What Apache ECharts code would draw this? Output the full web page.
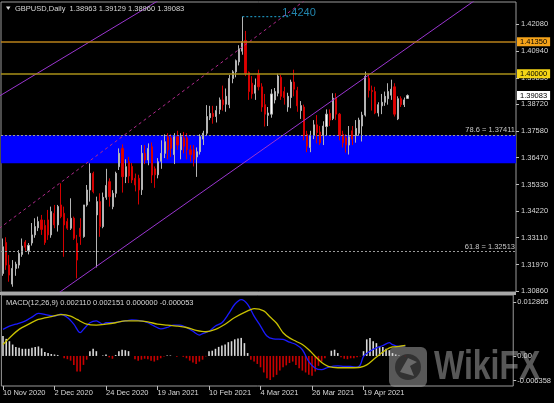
<!DOCTYPE html>
<html><head><meta charset="utf-8">
<script src="https://cdn.jsdelivr.net/npm/echarts@6/dist/echarts.min.js"></script>
<style>html,body{margin:0;padding:0;background:#000;}#c{width:554px;height:403px;}</style>
</head><body><div id="c"></div><script>
// ---------- DATA ----------
const headerText = 'GBPUSD,Daily  1.38963 1.39129 1.38960 1.39083';
const macdHeader = 'MACD(12,26,9) 0.002110 0.002151 0.000000 -0.000053';
const tickLabels = ['10 Nov 2020','2 Dec 2020','24 Dec 2020','19 Jan 2021','10 Feb 2021','4 Mar 2021','26 Mar 2021','19 Apr 2021'];
const labelEvery = 16;
const slotCount = 159;
const priceTicks = [1.30860,1.31970,1.33110,1.34220,1.35330,1.36470,1.37580,1.38720,1.39830,1.40940,1.42080];
const priceMin = 1.30818, priceMax = 1.43018;
const macdMin = -0.006358, macdMax = 0.012865;
const macdTickPos = [0.011386, 0, -0.005196];
const macdTickText = ['0.012865', '0.00', '-0.006358'];

const opens = [1.3160,1.3290,1.3195,1.3115,1.3181,1.3195,1.3240,1.3292,1.3255,1.3288,
1.3322,1.3352,1.3385,1.3362,1.3385,1.3322,1.3413,1.3364,1.3448,1.3413,
1.3378,1.3350,1.3392,1.3287,1.3350,1.3315,1.3448,1.3511,1.3581,1.3406,
1.3462,1.3357,1.3480,1.3546,1.3441,1.3497,1.3609,1.3686,1.3567,1.3630,
1.3610,1.3560,1.3560,1.3512,1.3665,1.3637,1.3693,1.3600,1.3575,1.3632,
1.3665,1.3735,1.3730,1.3660,1.3735,1.3680,1.3730,1.3730,1.3680,1.3680,
1.3650,1.3672,1.3725,1.3750,1.3815,1.3833,1.3820,1.3850,1.3890,1.3872,
1.3870,1.3980,1.4008,1.4050,1.4095,1.4140,1.4005,1.3960,1.3918,1.4000,
1.3945,1.3870,1.3825,1.3830,1.3890,1.3918,1.3985,1.3925,1.3860,1.3900,
1.3965,1.3930,1.3845,1.3860,1.3745,1.3690,1.3740,1.3785,1.3755,1.3740,
1.3778,1.3833,1.3812,1.3900,1.3830,1.3745,1.3730,1.3700,1.3760,1.3740,
1.3750,1.3780,1.3826,1.3981,1.3930,1.3925,1.3835,1.3865,1.3880,1.3895,
1.3910,1.3945,1.3810,1.3895,1.3870,1.38963];
const highs = [1.3307,1.3312,1.3237,1.3216,1.3209,1.3258,1.3307,1.3300,1.3288,1.3372,
1.3392,1.3399,1.3406,1.3385,1.3427,1.3441,1.3448,1.3448,1.3539,1.3441,
1.3392,1.3476,1.3399,1.3322,1.3392,1.3448,1.3532,1.3623,1.3588,1.3483,
1.3497,1.3500,1.3600,1.3560,1.3510,1.3588,1.3686,1.3703,1.3640,1.3650,
1.3625,1.3580,1.3575,1.3700,1.3700,1.3707,1.3711,1.3610,1.3645,1.3720,
1.3745,1.3750,1.3745,1.3750,1.3760,1.3750,1.3755,1.3750,1.3700,1.3700,
1.3690,1.3745,1.3760,1.3868,1.3865,1.3865,1.3865,1.3900,1.3950,1.3938,
1.3995,1.4015,1.4060,1.4120,1.4240,1.4180,1.4010,1.3990,1.3980,1.4017,
1.3960,1.3915,1.3860,1.3935,1.3940,1.4000,1.3995,1.3945,1.3920,1.3975,
1.4017,1.3945,1.3885,1.3870,1.3760,1.3760,1.3805,1.3826,1.3780,1.3800,
1.3850,1.3850,1.3918,1.3918,1.3835,1.3760,1.3745,1.3780,1.3780,1.3805,
1.3815,1.3840,1.4009,1.4000,1.3950,1.3945,1.3880,1.3915,1.3925,1.3960,
1.3975,1.3960,1.3905,1.3905,1.3900,1.39129];
const lows = [1.3150,1.3175,1.3125,1.3104,1.3150,1.3181,1.3230,1.3255,1.3240,1.3277,
1.3310,1.3338,1.3322,1.3280,1.3301,1.3310,1.3350,1.3336,1.3392,1.3230,
1.3343,1.3343,1.3301,1.3139,1.3280,1.3310,1.3441,1.3462,1.3497,1.3185,
1.3314,1.3350,1.3470,1.3441,1.3430,1.3480,1.3595,1.3500,1.3540,1.3540,
1.3540,1.3505,1.3450,1.3490,1.3620,1.3615,1.3540,1.3520,1.3560,1.3600,
1.3645,1.3640,1.3650,1.3620,1.3680,1.3640,1.3665,1.3640,1.3630,1.3610,
1.3566,1.3660,1.3700,1.3740,1.3805,1.3790,1.3795,1.3830,1.3845,1.3840,
1.3855,1.3960,1.3985,1.4035,1.4080,1.3990,1.3890,1.3895,1.3890,1.3930,
1.3840,1.3778,1.3780,1.3815,1.3875,1.3905,1.3890,1.3870,1.3840,1.3855,
1.3905,1.3840,1.3810,1.3720,1.3670,1.3670,1.3725,1.3707,1.3700,1.3700,
1.3740,1.3780,1.3805,1.3805,1.3720,1.3690,1.3668,1.3660,1.3700,1.3710,
1.3740,1.3715,1.3820,1.3900,1.3845,1.3830,1.3820,1.3830,1.3865,1.3870,
1.3890,1.3820,1.3805,1.3860,1.3860,1.38960];
const closes = [1.3272,1.3195,1.3153,1.3181,1.3199,1.3244,1.3275,1.3270,1.3278,1.3322,
1.3357,1.3378,1.3345,1.3290,1.3322,1.3420,1.3364,1.3441,1.3399,1.3364,
1.3350,1.3392,1.3308,1.3216,1.3315,1.3448,1.3511,1.3581,1.3504,1.3462,
1.3357,1.3480,1.3530,1.3483,1.3497,1.3581,1.3665,1.3567,1.3609,1.3570,
1.3553,1.3532,1.3511,1.3665,1.3637,1.3686,1.3574,1.3575,1.3630,1.3665,
1.3714,1.3680,1.3686,1.3735,1.3700,1.3735,1.3695,1.3680,1.3660,1.3640,
1.3672,1.3735,1.3750,1.3820,1.3833,1.3820,1.3845,1.3890,1.3870,1.3905,
1.3980,1.4008,1.4055,1.4105,1.4135,1.4000,1.3925,1.3915,1.3952,1.3945,
1.3860,1.3830,1.3835,1.3915,1.3925,1.3990,1.3905,1.3900,1.3905,1.3965,
1.3935,1.3865,1.3866,1.3740,1.3695,1.3742,1.3785,1.3752,1.3710,1.3780,
1.3830,1.3805,1.3897,1.3830,1.3740,1.3710,1.3700,1.3735,1.3725,1.3770,
1.3805,1.3826,1.3988,1.3930,1.3925,1.3835,1.3870,1.3880,1.3905,1.3925,
1.3935,1.3830,1.3895,1.3870,1.3890,1.39083];

const macdHist = [0.0042,0.0036,0.0031,0.0024,0.0019,0.0017,0.0015,0.0015,0.0015,0.0017,
0.0019,0.0020,0.0016,0.0008,0.0006,0.0004,0.0003,0.0002,0.0000,-0.0005,
-0.0007,-0.0010,-0.0019,-0.0033,-0.0033,-0.0019,-0.0008,0.0010,0.0015,0.0010,
0.0000,0.0001,0.0003,-0.0003,-0.0006,0.0002,0.0010,0.0013,0.0012,0.0010,
0.0000,-0.0007,-0.0010,-0.0008,-0.0006,-0.0007,-0.0010,-0.0012,-0.0009,-0.0005,
-0.0001,0.0001,0.0001,0.0000,-0.0002,0.0000,-0.0002,-0.0005,-0.0010,-0.0014,
-0.0017,-0.0012,-0.0008,-0.0001,0.0010,0.0011,0.0015,0.0019,0.0022,0.0024,
0.0029,0.0031,0.0035,0.0037,0.0038,0.0027,0.0006,-0.0008,-0.0012,-0.0017,
-0.0024,-0.0035,-0.0047,-0.0051,-0.0045,-0.0040,-0.0031,-0.0024,-0.0020,-0.0015,
-0.0012,-0.0019,-0.0026,-0.0031,-0.0035,-0.0040,-0.0042,-0.0033,-0.0021,-0.0012,
-0.0005,0.0000,0.0011,0.0013,0.0006,-0.0003,-0.0006,-0.0007,-0.0005,-0.0005,
-0.0003,-0.0001,0.0010,0.0035,0.0038,0.0031,0.0027,0.0020,0.0019,0.0015,
0.0012,0.0006,0.0003,0.0001,0.0000,-0.00005];
const macdLine = [[0,0.0056],[2,0.0063],[4,0.0067],[7,0.0074],[9,0.0082],[11,0.0090],[14,0.0086],[16,0.0084],[18,0.0088],[20,0.0081],[22,0.0067],[24,0.0049],[25,0.0056],[27,0.0070],[29,0.0074],[31,0.0067],[32,0.0070],[34,0.0070],[36,0.0072],[38,0.0074],[40,0.0076],[43,0.0074],[45,0.0070],[47,0.0063],[49,0.0057],[51,0.0060],[53,0.0065],[55,0.0065],[57,0.0060],[59,0.0052],[61,0.0044],[62,0.0047],[64,0.0052],[66,0.0063],[68,0.0070],[70,0.0088],[72,0.0109],[74,0.0119],[76,0.0109],[78,0.0084],[80,0.0063],[82,0.0042],[84,0.0036],[87,0.0035],[89,0.0029],[91,0.0024],[93,0.0013],[95,-0.0012],[97,-0.0026],[99,-0.0029],[101,-0.0024],[104,-0.0021],[106,-0.0022],[108,-0.0022],[110,-0.0024],[111,-0.0019],[112,-0.0001],[114,0.0010],[116,0.0017],[118,0.0022],[120,0.0028],[121,0.0024],[123,0.0020],[125,0.0021]];
const signalLine = [[0,0.0024],[2,0.0038],[5,0.0056],[8,0.0067],[11,0.0077],[15,0.0083],[18,0.0087],[21,0.0084],[23,0.0077],[26,0.0067],[29,0.0065],[32,0.0067],[35,0.0070],[38,0.0074],[42,0.0074],[45,0.0072],[48,0.0067],[51,0.0065],[54,0.0063],[57,0.0060],[60,0.0054],[63,0.0051],[66,0.0056],[69,0.0067],[72,0.0081],[76,0.0095],[78,0.0100],[81,0.0095],[83,0.0082],[85,0.0069],[87,0.0049],[89,0.0038],[91,0.0031],[93,0.0024],[95,0.0013],[97,-0.0001],[99,-0.0014],[101,-0.0022],[104,-0.0025],[108,-0.0025],[111,-0.0024],[113,-0.0019],[115,-0.0008],[117,0.0003],[119,0.0013],[121,0.0019],[123,0.0020],[125,0.0022]];

// drawn objects (bar index, price)
const channelUpper = [[-1, 1.3906], [52, 1.4340]];
const channelLower = [[15, 1.3056], [150, 1.4349]];
const channelMid = [[-1, 1.3350], [95, 1.4326]];
const highMarker = [[74, 1.4240], [88.5, 1.4240]];
const highLabelPos = [86.3, 1.4256];
const highLabel = '1.4240';
const resistance1 = 1.41350, resistance2 = 1.40000, lastPrice = 1.39083;
const fib786 = 1.37411, fib618 = 1.32513;
const zoneTop = 1.37411, zoneBottom = 1.36232;

// ---------- CHART ----------
const FONT = 'Liberation Sans, Arial, sans-serif';
const cats = Array.from({length: slotCount}, (_, i) => String(i));
const candleData = opens.map((o, i) => [o, closes[i], lows[i], highs[i]]);
const showIdx = (i) => i % labelEvery === 0 && i / labelEvery < tickLabels.length;
const chart = echarts.init(document.getElementById('c'));
const hLabel = (txt, bg) => ({show: true, position: 'end', formatter: txt, backgroundColor: bg, color: '#000',
  fontSize: 7.5, fontFamily: FONT, padding: [1, 3, 0, 3], distance: 1});
chart.setOption({
  backgroundColor: '#000',
  animation: false,
  textStyle: {fontFamily: FONT},
  grid: [
    {left: 1, right: 38, top: 2, height: 290, show: true, borderColor: '#9a9a9a', borderWidth: 1, backgroundColor: 'transparent'},
    {left: 1, right: 38, top: 295, height: 91, show: true, borderColor: '#9a9a9a', borderWidth: 1, backgroundColor: 'transparent'}
  ],
  xAxis: [
    {type: 'category', gridIndex: 0, data: cats, boundaryGap: true, show: false, axisLine: {onZero: false}},
    {type: 'category', gridIndex: 1, data: cats, boundaryGap: true,
      axisLine: {show: false, onZero: false},
      axisTick: {show: true, alignWithLabel: true, length: 4, interval: (i) => showIdx(i), lineStyle: {color: '#bdbdbd'}},
      axisLabel: {interval: (i) => showIdx(i), formatter: (v, i) => tickLabels[i / labelEvery] || '',
        align: 'left', color: '#d8d8d8', fontSize: 7.5, margin: 3, fontFamily: FONT},
      splitLine: {show: false}},
    {type: 'value', gridIndex: 0, min: -0.5, max: slotCount - 0.5, show: false, axisLine: {onZero: false}},
    {type: 'value', gridIndex: 1, min: -0.5, max: slotCount - 0.5, show: false, axisLine: {onZero: false}}
  ],
  yAxis: [
    {type: 'value', gridIndex: 0, position: 'right', min: priceMin, max: priceMax, scale: true,
      splitLine: {show: false}, axisLine: {show: false, onZero: false},
      axisTick: {show: true, length: 3, customValues: priceTicks, lineStyle: {color: '#bdbdbd'}},
      axisLabel: {customValues: priceTicks, formatter: (v) => v.toFixed(5), color: '#d8d8d8', fontSize: 7.5, margin: 5, fontFamily: FONT}},
    {type: 'value', gridIndex: 1, position: 'right', min: macdMin, max: macdMax,
      splitLine: {show: false}, axisLine: {show: false, onZero: false},
      axisTick: {show: true, length: 3, customValues: macdTickPos, lineStyle: {color: '#bdbdbd'}},
      axisLabel: {customValues: macdTickPos, color: '#d8d8d8', fontSize: 7.5, margin: 4, fontFamily: FONT,
        formatter: (v) => { let k = 0, d = 1; macdTickPos.forEach((t, j) => { if (Math.abs(t - v) < d) { d = Math.abs(t - v); k = j; } }); return macdTickText[k]; }}}
  ],
  series: [
    {type: 'candlestick', xAxisIndex: 0, yAxisIndex: 0, data: candleData, barWidth: 1.6,
      itemStyle: {color: '#ffffff', color0: '#e00000', borderColor: '#b4b4b4', borderColor0: '#d40000', borderWidth: 1},
      markArea: {silent: true, precision: 6, itemStyle: {color: '#0000ff'}, data: [[{yAxis: zoneTop}, {yAxis: zoneBottom}]]}},
    {type: 'line', xAxisIndex: 2, yAxisIndex: 0, data: [], silent: true,
      markLine: {silent: true, symbol: 'none', precision: 6, animation: false, data: [
        {yAxis: fib786, lineStyle: {color: '#9a9a9a', type: [2, 2], width: 1},
          label: {show: true, position: 'insideEndTop', formatter: '78.6 = 1.37411', color: '#c8c8c8', fontSize: 7.5, fontFamily: FONT, distance: 1}},
        {yAxis: fib618, lineStyle: {color: '#9a9a9a', type: [2, 2], width: 1},
          label: {show: true, position: 'insideEndTop', formatter: '61.8 = 1.32513', color: '#c8c8c8', fontSize: 7.5, fontFamily: FONT, distance: 1}},
        {yAxis: resistance1, lineStyle: {color: '#b8801a', type: 'solid', width: 1.5}, label: hLabel('1.41350', '#f5a31a')},
        {yAxis: resistance2, lineStyle: {color: '#a89018', type: 'solid', width: 1.5}, label: hLabel('1.40000', '#f5d516')},
        {yAxis: lastPrice, lineStyle: {color: 'rgba(0,0,0,0)', width: 1, type: 'solid'}, label: hLabel('1.39083', '#ffffff')}
      ]}},
    {type: 'line', xAxisIndex: 2, yAxisIndex: 0, data: channelUpper, symbol: 'none', silent: true, clip: true,
      lineStyle: {color: '#9a35d0', width: 1}},
    {type: 'line', xAxisIndex: 2, yAxisIndex: 0, data: channelLower, symbol: 'none', silent: true, clip: true,
      lineStyle: {color: '#9a35d0', width: 1}},
    {type: 'line', xAxisIndex: 2, yAxisIndex: 0, data: channelMid, symbol: 'none', silent: true, clip: true,
      lineStyle: {color: '#b02a8c', width: 1, type: [3, 3]}},
    {type: 'line', xAxisIndex: 2, yAxisIndex: 0, data: highMarker, symbol: 'none', silent: true,
      lineStyle: {color: '#22a8d8', width: 1, type: [2, 2]}},
    {type: 'scatter', xAxisIndex: 2, yAxisIndex: 0, data: [highLabelPos], symbolSize: 0, silent: true,
      label: {show: true, position: 'right', distance: 0, formatter: highLabel, color: '#2aa6d8', fontSize: 11, fontFamily: FONT}},
    {type: 'bar', xAxisIndex: 1, yAxisIndex: 1, data: macdHist, barWidth: 1.6, silent: true,
      itemStyle: {color: (p) => p.value >= 0 ? '#d8d8d8' : '#c80000'}},
    {type: 'line', xAxisIndex: 3, yAxisIndex: 1, data: macdLine, symbol: 'none', smooth: 0.3, silent: true,
      lineStyle: {color: '#1a1aff', width: 1.3}},
    {type: 'line', xAxisIndex: 3, yAxisIndex: 1, data: signalLine, symbol: 'none', smooth: 0.3, silent: true,
      lineStyle: {color: '#c8c000', width: 1.3}}
  ],
  graphic: [
    {type: 'rect', left: 0, top: 292, shape: {width: 516, height: 3}, style: {fill: '#a8a8a8'}, silent: true, z: 10},
    {type: 'polygon', shape: {points: [[6, 6.5], [10.5, 6.5], [8.25, 10]]}, style: {fill: '#d8d8d8'}, silent: true, z: 10},
    {type: 'text', x: 15, y: 8.5, style: {text: headerText, fill: '#d8d8d8', font: '7.5px ' + FONT, textVerticalAlign: 'middle'}, silent: true, z: 10},
    {type: 'text', x: 6, y: 303, style: {text: macdHeader, fill: '#d8d8d8', font: '7.5px ' + FONT, textVerticalAlign: 'middle'}, silent: true, z: 10},
    {type: 'group', z: 20, silent: true, children: [
      {type: 'rect', shape: {x: 389, y: 347, width: 38, height: 40, r: 6}, style: {fill: 'rgba(160,160,160,0.55)'}},
      {type: 'circle', shape: {cx: 408, cy: 367, r: 13}, style: {fill: 'rgba(20,20,20,0.55)'}},
      {type: 'polygon', shape: {points: [[400, 372], [408, 358], [417, 362], [410, 366], [414, 376]]}, style: {fill: 'rgba(160,160,160,0.5)'}},
      {type: 'text', x: 434, y: 368, scaleX: 0.8, style: {text: 'WikiFX', fill: 'rgba(160,160,160,0.55)', font: 'bold 40px ' + FONT, textVerticalAlign: 'middle'}}
    ]}
  ]
});
</script></body></html>
